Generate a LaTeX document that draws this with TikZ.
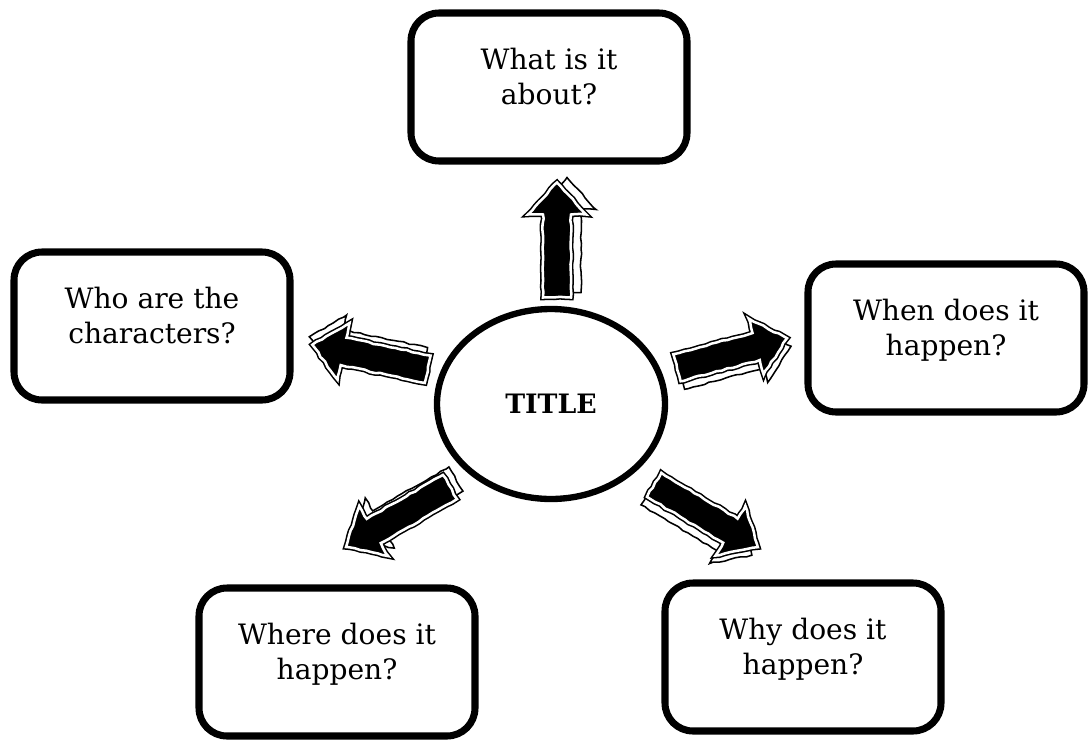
\documentclass[tikz,border=0pt]{standalone}
\usepackage{fontspec}
\setmainfont{DejaVu Serif}
\usetikzlibrary{shapes.geometric,decorations.pathmorphing}

% block arrow pointing along +x, centred on the origin, #1 = length
\newcommand{\blockarrow}[1]{(-#1/2,-14) -- (#1/2-32,-14) -- (#1/2-32,-29) -- (#1/2,0)
  -- (#1/2-32,29) -- (#1/2-32,14) -- (-#1/2,14) -- cycle}

\begin{document}
\begin{tikzpicture}[x=0.25mm, y=-0.25mm,
    qbox/.style={draw, line width=5pt, rounded corners=7mm,
      minimum width=69mm, minimum height=37mm, align=center,
      text depth=5.4mm, font=\fontsize{20pt}{25pt}\selectfont},
    hub/.style={draw, ellipse, line width=4.5pt, minimum width=57mm,
      minimum height=47.5mm, font=\fontsize{19pt}{23pt}\selectfont\bfseries},
    sketch/.style={decorate, decoration={random steps, segment length=4pt, amplitude=0.5pt}},
    ghost/.style={sketch, draw=black, fill=white, line width=1.1pt},
    inked/.style={sketch, draw=black, fill=black, line width=1.1pt,
      double=white, double distance=1.8pt}]
    \useasboundingbox (0,0) rectangle (1088,740);

    % Draw the centre circle
    \node[hub] (title) at (551,404) {TITLE};

    % Draw the question boxes
    \node[qbox] (what)  at (549,87)  {What is it\\about?};
    \node[qbox] (who)   at (152,326) {Who are the\\characters?};
    \node[qbox] (when)  at (946,338) {When does it\\happen?};
    \node[qbox] (where) at (337,662) {Where does it\\happen?};
    \node[qbox] (why)   at (803,657) {Why does it\\happen?};

    % Draw the sketched arrows: centre x/centre y/angle/length/shadow dx/shadow dy
    \foreach \cx/\cy/\ang/\len/\dx/\dy in {557/240/90/115/10/-5,
        370/357/168/118/-3/-8, 732/353/15/114/4/8,
        398/517/210/120/6/-8, 706/516/-31/121/-6/8} {
        \draw[ghost, shift={(\cx+\dx,\cy+\dy)}, rotate=\ang] \blockarrow{\len};
        \draw[inked, shift={(\cx,\cy)}, rotate=\ang] \blockarrow{\len};
    }

\end{tikzpicture}
\end{document}
